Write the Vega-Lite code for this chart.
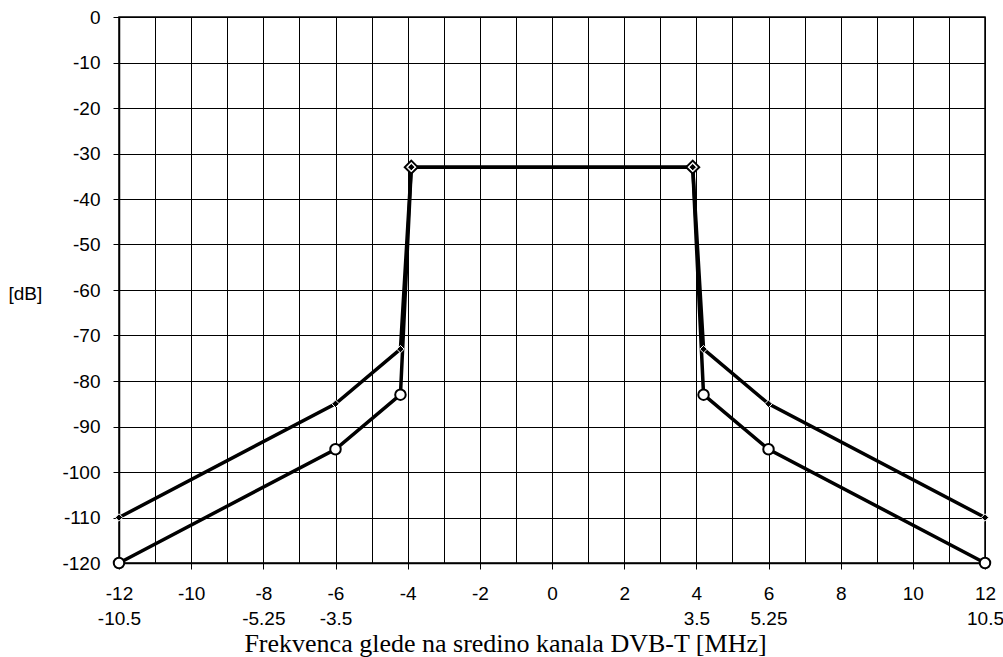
{
  "$schema": "https://vega.github.io/schema/vega-lite/v6.json",
  "autosize": "none",
  "width": 866,
  "height": 546,
  "padding": {"left": 119, "top": 17, "right": 18, "bottom": 94},
  "background": "white",
  "config": {
    "view": {"stroke": "black", "strokeWidth": 1.5},
    "axis": {
      "labelFont": "Liberation Sans",
      "labelFontSize": 19,
      "labelColor": "black",
      "tickColor": "black",
      "domainColor": "black",
      "gridColor": "black",
      "gridOpacity": 1,
      "gridWidth": 1
    }
  },
  "data": {
    "values": [
      {"f": -12, "dB": -110, "s": "outer"},
      {"f": -6, "dB": -85, "s": "outer"},
      {"f": -4.2, "dB": -73, "s": "outer"},
      {"f": -3.9, "dB": -33, "s": "outer"},
      {"f": 3.9, "dB": -33, "s": "outer"},
      {"f": 4.2, "dB": -73, "s": "outer"},
      {"f": 6, "dB": -85, "s": "outer"},
      {"f": 12, "dB": -110, "s": "outer"},
      {"f": -12, "dB": -120, "s": "inner"},
      {"f": -6, "dB": -95, "s": "inner"},
      {"f": -4.2, "dB": -83, "s": "inner"},
      {"f": -3.9, "dB": -33, "s": "inner"},
      {"f": 3.9, "dB": -33, "s": "inner"},
      {"f": 4.2, "dB": -83, "s": "inner"},
      {"f": 6, "dB": -95, "s": "inner"},
      {"f": 12, "dB": -120, "s": "inner"}
    ]
  },
  "encoding": {
    "x": {
      "field": "f",
      "type": "quantitative",
      "scale": {"domain": [-12, 12], "nice": false, "zero": false},
      "axis": {
        "values": [-12,-11,-10,-9,-8,-7,-6,-5,-4,-3,-2,-1,0,1,2,3,4,5,6,7,8,9,10,11,12],
        "grid": true,
        "domainWidth": 1.5,
        "tickSize": 6,
        "tickWidth": 1,
        "tickOpacity": {"condition": {"test": "datum.value % 2 != 0", "value": 0}, "value": 1},
        "labelPadding": 15,
        "labelOverlap": false,
        "labelFlush": false,
        "labelBound": false,
        "labelLineHeight": 25.5,
        "labelBaseline": "top",
        "labelExpr": "datum.value % 2 != 0 ? '' : datum.value == -12 ? ['-12','-10.5'] : datum.value == -8 ? ['-8','-5.25'] : datum.value == -6 ? ['-6','-3.5'] : datum.value == 4 ? ['4','3.5'] : datum.value == 6 ? ['6','5.25'] : datum.value == 12 ? ['12','10.5'] : '' + datum.value",
        "title": "Frekvenca glede na sredino kanala DVB-T [MHz]",
        "titleFont": "Liberation Serif",
        "titleFontSize": 26,
        "titleFontWeight": "normal",
        "titleColor": "black",
        "titleX": 386,
        "titleY": 88,
        "titleAlign": "center",
        "titleBaseline": "alphabetic"
      }
    },
    "y": {
      "field": "dB",
      "type": "quantitative",
      "scale": {"domain": [-120, 0], "nice": false, "zero": false},
      "axis": {
        "values": [-120,-110,-100,-90,-80,-70,-60,-50,-40,-30,-20,-10,0],
        "grid": true,
        "domainWidth": 1.5,
        "tickSize": 6,
        "labelPadding": 13,
        "labelOverlap": false,
        "labelBound": false,
        "labelExpr": "'' + datum.value",
        "title": "[dB]",
        "titleFont": "Liberation Sans",
        "titleFontSize": 19,
        "titleFontWeight": "normal",
        "titleColor": "black",
        "titleAngle": 0,
        "titleAlign": "left",
        "titleBaseline": "middle",
        "titleX": -111,
        "titleY": 276
      }
    }
  },
  "layer": [
    {
      "mark": {"type": "line", "color": "black", "strokeWidth": 3.5, "clip": false},
      "encoding": {"detail": {"field": "s", "type": "nominal"}}
    },
    {
      "transform": [{"filter": "datum.s == 'inner' && datum.dB < -40"}],
      "mark": {"type": "point", "shape": "circle", "filled": true, "fill": "white", "stroke": "black", "strokeWidth": 2, "size": 110, "opacity": 1, "clip": false}
    },
    {
      "transform": [{"filter": "datum.s == 'outer' && datum.dB > -40"}],
      "mark": {"type": "point", "shape": "diamond", "filled": true, "fill": "white", "stroke": "black", "strokeWidth": 2, "size": 170, "opacity": 1}
    },
    {
      "transform": [{"filter": "datum.s == 'outer'"}],
      "mark": {"type": "point", "shape": "diamond", "filled": true, "fill": "black", "stroke": "white", "strokeWidth": 1, "size": 55, "opacity": 1, "clip": false}
    }
  ]
}
